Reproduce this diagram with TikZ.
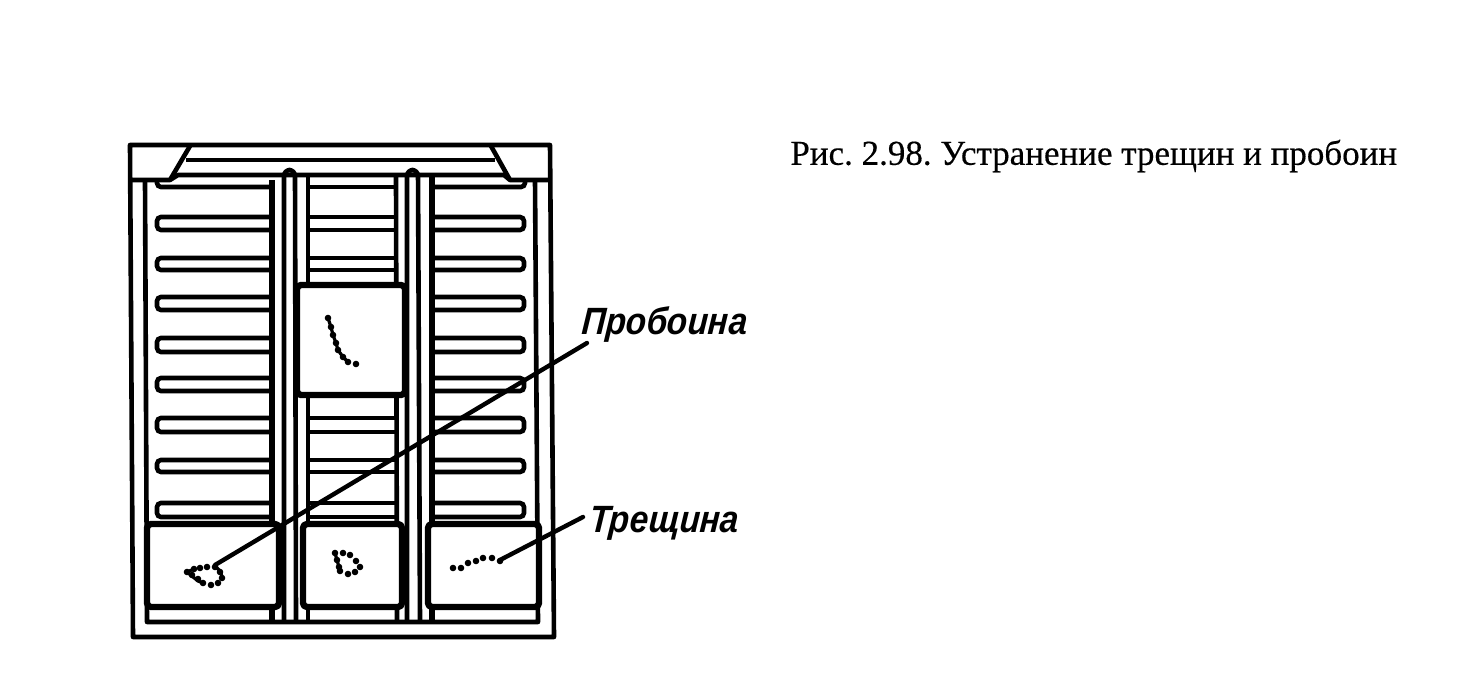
\documentclass[tikz,border=0pt]{standalone}
\usepackage{fontspec}
\setmainfont{Liberation Serif}
\newfontfamily\labelfont[FakeSlant=0.08]{Liberation Sans}
\newfontfamily\capfont[FakeBold=0.35]{Liberation Serif}
\tikzset{
  thinline/.style={draw=black,line width=2.3pt,line join=round},
  thickline/.style={draw=black,line width=3.2pt,line join=round},
  patch/.style={thickline,fill=white,rounded corners=2pt},
  barline/.style={draw=black,line width=2.3pt,rounded corners=2pt},
  leader/.style={draw=black,line width=2.2pt,line cap=round},
  crackdot/.style={circle,fill=black,inner sep=0pt,minimum size=3.3pt},
  cracklink/.style={draw=black,line width=1.6pt},
  notelabel/.style={font=\labelfont\bfseries\itshape\fontsize{19}{22}\selectfont,inner sep=0pt,anchor=west,xscale=.88,transform shape},
  captiontext/.style={font=\capfont\fontsize{17.5}{21}\selectfont,inner sep=0pt,anchor=west}
}
\begin{document}
\begin{tikzpicture}[x=0.5pt,y=-0.5pt]
\useasboundingbox (0,0) rectangle (1472,696);
\fill[white] (0,0) rectangle (1472,696);
% outer frame
\draw[thinline] (130,145) -- (550,145) -- (554,637) -- (133,637) -- cycle;
\draw[thinline] (130,180) -- (170,180) -- (178,175) -- (504,175) -- (510,180) -- (551,180);
\draw[thinline] (170,180) -- (190,146);
\draw[thinline] (510,180) -- (491,146);
\draw[thinline] (186,160) -- (495,160);
% inner long verticals
\draw[thinline] (145,180) -- (147,622) -- (538,622) -- (535,180);
\draw[thickline] (272,180) -- (272,622);
\draw[thinline] (308,176) -- (308,622);
\draw[thinline] (396,176) -- (397,622);
\draw[thickline] (432,176) -- (432,622);
% posts with round tops
\draw[thinline,rounded corners=3pt] (284,622) -- (284,170) -- (295,170) -- (296,622);
\draw[thinline,rounded corners=3pt] (407,622) -- (407,170) -- (418,170) -- (420,622);
% top rails of the panels
\draw[barline] (157,180) -- (157,187) -- (271,187);
\draw[thinline] (308,187) -- (396,187);
\draw[barline] (525,180) -- (525,187) -- (432,187);
% slats
\foreach \ya/\yb in {217/230,258/270,297/310,338/352,378/391,418/432,460/472,503/517}{
  \draw[barline] (271,\ya) -- (157,\ya) -- (157,\yb) -- (271,\yb);
  \draw[barline] (433,\ya) -- (524,\ya) -- (524,\yb) -- (433,\yb);
  \draw[thinline] (308,\ya) -- (396,\ya);
  \draw[thinline] (308,\yb) -- (396,\yb);
}
% patches
\draw[patch] (297,285) rectangle (405,395);
\draw[patch] (147,524) rectangle (279,607);
\draw[patch] (303,524) rectangle (402,607);
\draw[patch] (428,524) rectangle (539,607);
% crack in the upper patch
\draw[cracklink] (328,318) -- (331,327) -- (333,335) -- (336,343) -- (338,350) -- (343,357) -- (348,362);
\foreach \px/\py in {328/318,331/327,333/335,336/343,338/350,343/357,348/362,356/364}
  \node[crackdot] at (\px,\py) {};
% hole contour, left patch
\draw[cracklink] (187,572) -- (198,581) -- (203,583);
\draw[cracklink] (187,572) -- (194,569);
\draw[cracklink] (216,567) -- (221,572) -- (222,578);
\foreach \px/\py in {187/572,194/569,200/568,207/567,215/567,220/572,222/578,218/583,211/585,203/583,198/579,192/575}
  \node[crackdot] at (\px,\py) {};
% contour, centre patch
\draw[cracklink] (335,553) -- (337,560) -- (339,567) -- (340,571);
\foreach \px/\py in {335/553,337/560,339/567,340/571,348/574,355/572,360/567,356/561,350/555,343/553}
  \node[crackdot] at (\px,\py) {};
% crack, right patch
\foreach \px/\py in {453/568,461/568,468/563,476/561,483/558,492/558,500/561}
  \node[crackdot] at (\px,\py) {};
% labels and leaders
\node[notelabel] (holelabel) at (581,325) {Пробоина};
\node[notelabel] (cracklabel) at (589,523) {Трещина};
\coordinate (holeend) at (215,565);
\coordinate (holestart) at (587,343);
\coordinate (crackend) at (500,560);
\coordinate (crackstart) at (583,517);
\draw[leader] (holestart) -- (holeend);
\draw[leader] (crackstart) -- (crackend);
\node[captiontext] (caption) at (790,156) {Рис.\ 2.98.\ Устранение трещин и пробоин};
\end{tikzpicture}
\end{document}
